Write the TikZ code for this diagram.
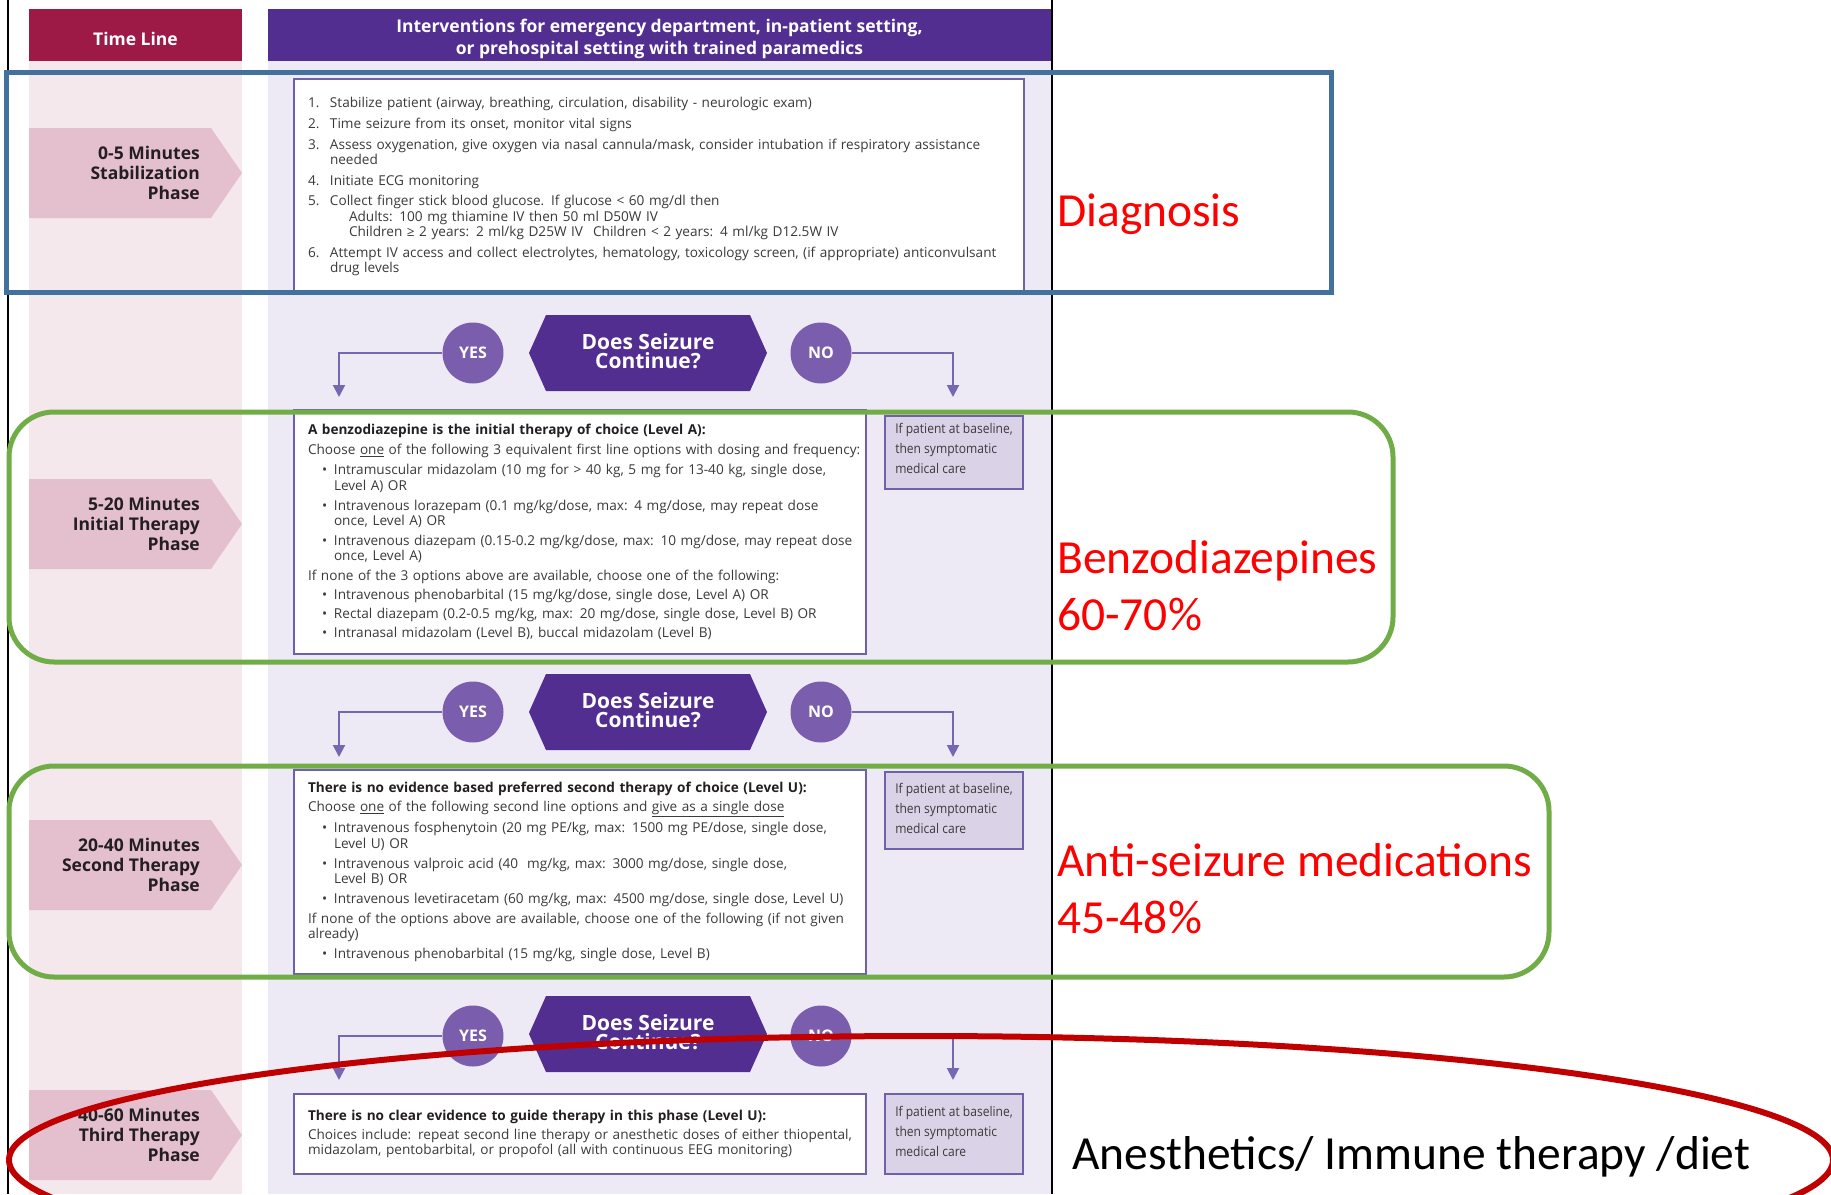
\documentclass[tikz,border=0pt]{standalone}
\usepackage{fontspec}
\setmainfont{Open Sans}
\newfontfamily\sidefont{Open Sans}[FakeStretch=0.9]
\newfontfamily\calibfont{Carlito}
\usetikzlibrary{arrows.meta}

\definecolor{crimson}{HTML}{9C1A45}
\definecolor{deeppurple}{HTML}{512E90}
\definecolor{midpurple}{HTML}{7B5DAE}
\definecolor{linepurple}{HTML}{7667B3}
\definecolor{edgepurple}{HTML}{7060AA}
\definecolor{pinkbg}{HTML}{F5E8ED}
\definecolor{pinkarrow}{HTML}{E4BFCD}
\definecolor{lavbg}{HTML}{EDEAF5}
\definecolor{sidefill}{HTML}{DAD3E8}
\definecolor{bodytext}{HTML}{3A3A3A}
\definecolor{stagetext}{HTML}{231F20}
\definecolor{annblue}{HTML}{41719C}
\definecolor{anngreen}{HTML}{70AD47}
\definecolor{annred}{HTML}{C00000}

\newcommand{\itm}[2]{\makebox[22pt][l]{#1}#2}
\newcommand{\bul}{\hspace*{14pt}\makebox[12pt][l]{•}}
\newcommand{\hang}{\hspace*{26pt}}
\newcommand{\sidetext}[1]{\raisebox{#1}[\height][\depth]{\begin{tabular}{@{}l@{}}If patient at baseline,\\then symptomatic\\medical care\end{tabular}}}

\begin{document}
\begin{tikzpicture}[x=1pt,y=-1pt,
    textbox/.style={draw=edgepurple, line width=1.3pt, fill=white, inner xsep=14pt, inner ysep=0pt, align=left, text=bodytext, font=\fontsize{13.6}{15.3}\selectfont},
    sidebox/.style={draw=edgepurple, line width=1.3pt, fill=sidefill, inner xsep=0pt, inner ysep=0pt, minimum width=138pt, text=bodytext, font=\sidefont\fontsize{13.4}{20}\selectfont},
    stage/.style={anchor=east, align=right, inner sep=0pt, text=stagetext, font=\bfseries\fontsize{17.5}{20}\selectfont},
    decision/.style={text=white, align=center, inner sep=0pt, font=\bfseries\fontsize{21}{19}\selectfont},
    answer/.style={circle, fill=midpurple, minimum size=61pt, inner sep=0pt, text=white, font=\bfseries\fontsize{16}{18}\selectfont},
    flow/.style={draw=linepurple, line width=2pt, -{Triangle[length=12pt,width=12pt]}},
    note/.style={anchor=west, align=left, text=red, inner sep=0pt, font=\calibfont\fontsize{47.5}{57}\selectfont}]

    \useasboundingbox (0,0) rectangle (1831,1194);
    \fill[white] (0,0) rectangle (1831,1194);
    \fill[pinkbg] (29,61) rectangle (242,1194);
    \fill[lavbg] (268,61) rectangle (1051,1194);

    \node (TL) [fill=crimson, minimum width=213pt, minimum height=52pt, text=white, font=\bfseries\fontsize{17.5}{20}\selectfont] at (135.5,35) {\raisebox{-3.5pt}[\height][\depth]{Time Line}};
    \node (IH) [fill=deeppurple, minimum width=783pt, minimum height=52pt, inner xsep=0pt, text=white, font=\bfseries\fontsize{17.5}{22}\selectfont] at (659.5,35) {\raisebox{-3.5pt}[\height][\depth]{\parbox{783pt}{\centering Interventions for emergency department, in-patient setting,\\or prehospital setting with trained paramedics}}};

    \draw[line width=1.2pt] (8,0) -- (8,1194);
    \draw[line width=1.2pt] (1052,0) -- (1052,1194);

    \fill[pinkarrow] (29,128) -- (211,128) -- (242,173) -- (211,218) -- (29,218) -- cycle;
    \fill[pinkarrow] (29,479) -- (211,479) -- (242,524) -- (211,569) -- (29,569) -- cycle;
    \fill[pinkarrow] (29,820) -- (211,820) -- (242,865) -- (211,910) -- (29,910) -- cycle;
    \fill[pinkarrow] (29,1090) -- (211,1090) -- (242,1135) -- (211,1180) -- (29,1180) -- cycle;

    \node (P1) [stage] at (200,173) {0-5 Minutes\\Stabilization\\Phase};
    \node (P2) [stage] at (200,524) {5-20 Minutes\\Initial Therapy\\Phase};
    \node (P3) [stage] at (200,865) {20-40 Minutes\\Second Therapy\\Phase};
    \node (P4) [stage] at (200,1135) {40-60 Minutes\\Third Therapy\\Phase};

    \node (B1) [textbox, text width=702pt, minimum height=215pt] at (659,186.5) {%
        \itm{1.}{Stabilize patient (airway, breathing, circulation, disability - neurologic exam)}\\[5.5pt]
        \itm{2.}{Time seizure from its onset, monitor vital signs}\\[5.5pt]
        \mbox{\itm{3.}{Assess oxygenation, give oxygen via nasal cannula/mask, consider intubation if respiratory assistance}}\\
        \hspace*{22pt}needed\\[5.5pt]
        \itm{4.}{Initiate ECG monitoring}\\[5.5pt]
        \itm{5.}{Collect finger stick blood glucose. If glucose < 60 mg/dl then}\\
        \hspace*{41pt}Adults: 100 mg thiamine IV then 50 ml D50W IV\\
        \hspace*{41pt}Children ≥ 2 years: 2 ml/kg D25W IV\hspace{10pt}Children < 2 years: 4 ml/kg D12.5W IV\\[5.5pt]
        \mbox{\itm{6.}{Attempt IV access and collect electrolytes, hematology, toxicology screen, (if appropriate) anticonvulsant}}\\
        \hspace*{22pt}drug levels};

    \fill[deeppurple] (529,353) -- (546,315) -- (750,315) -- (767,353) -- (750,391) -- (546,391) -- cycle;
    \node (D1) [decision] at (648,351) {Does Seizure\\Continue?};
    \node (Y1) [answer] at (473,353) {YES};
    \node (N1) [answer] at (821,353) {NO};
    \coordinate (YA1) at (339,397);
    \coordinate (NA1) at (953,397);
    \draw[flow] (Y1) -| (YA1);
    \draw[flow] (N1) -| (NA1);

    \node (B2) [textbox, text width=544pt, minimum height=244pt] at (580,532) {%
        \mbox{\textbf{\color{stagetext}A benzodiazepine is the initial therapy of choice (Level A):}}\\[4.7pt]
        \mbox{Choose \underline{one} of the following 3 equivalent first line options with dosing and frequency:}\\[4.7pt]
        \mbox{\bul Intramuscular midazolam (10 mg for > 40 kg, 5 mg for 13-40 kg, single dose,}\\
        \hang Level A) OR\\[4.7pt]
        \mbox{\bul Intravenous lorazepam (0.1 mg/kg/dose, max: 4 mg/dose, may repeat dose}\\
        \hang once, Level A) OR\\[4.7pt]
        \mbox{\bul Intravenous diazepam (0.15-0.2 mg/kg/dose, max: 10 mg/dose, may repeat dose}\\
        \hang once, Level A)\\[4.7pt]
        \mbox{If none of the 3 options above are available, choose one of the following:}\\[3.5pt]
        \mbox{\bul Intravenous phenobarbital (15 mg/kg/dose, single dose, Level A) OR}\\[3.5pt]
        \mbox{\bul Rectal diazepam (0.2-0.5 mg/kg, max: 20 mg/dose, single dose, Level B) OR}\\[3.5pt]
        \mbox{\bul Intranasal midazolam (Level B), buccal midazolam (Level B)}};
    \node (S1) [sidebox, minimum height=73pt] at (954,452.5) {\sidetext{3.5pt}};

    \fill[deeppurple] (529,712) -- (546,674) -- (750,674) -- (767,712) -- (750,750) -- (546,750) -- cycle;
    \node (D2) [decision] at (648,710) {Does Seizure\\Continue?};
    \node (Y2) [answer] at (473,712) {YES};
    \node (N2) [answer] at (821,712) {NO};
    \coordinate (YA2) at (339,757);
    \coordinate (NA2) at (953,757);
    \draw[flow] (Y2) -| (YA2);
    \draw[flow] (N2) -| (NA2);

    \node (B3) [textbox, text width=544pt, minimum height=204pt] at (580,872) {%
        \mbox{\textbf{\color{stagetext}There is no evidence based preferred second therapy of choice (Level U):}}\\[4pt]
        \mbox{Choose \underline{one} of the following second line options and \underline{give as a single dose}}\\[4.7pt]
        \mbox{\bul Intravenous fosphenytoin (20 mg PE/kg, max: 1500 mg PE/dose, single dose,}\\
        \hang Level U) OR\\[4.7pt]
        \mbox{\bul Intravenous valproic acid (40~ mg/kg, max: 3000 mg/dose, single dose,}\\
        \hang Level B) OR\\[4.7pt]
        \mbox{\bul Intravenous levetiracetam (60 mg/kg, max: 4500 mg/dose, single dose, Level U)}\\[4.7pt]
        \mbox{If none of the options above are available, choose one of the following (if not given}\\
        already)\\[4.7pt]
        \mbox{\bul Intravenous phenobarbital (15 mg/kg, single dose, Level B)}};
    \node (S2) [sidebox, minimum height=77pt] at (954,810.5) {\sidetext{1.5pt}};

    \fill[deeppurple] (529,1034) -- (546,996) -- (750,996) -- (767,1034) -- (750,1072) -- (546,1072) -- cycle;
    \node (D3) [decision] at (648,1032) {Does Seizure\\Continue?};
    \node (Y3) [answer] at (473,1036) {YES};
    \node (N3) [answer] at (821,1036) {NO};
    \coordinate (YA3) at (339,1080);
    \coordinate (NA3) at (953,1080);
    \draw[flow] (Y3) -| (YA3);
    \draw[flow] (N3) -| (NA3);

    \node (B4) [textbox, text width=544pt, minimum height=80pt] at (580,1134) {%
        \mbox{\textbf{\color{stagetext}There is no clear evidence to guide therapy in this phase (Level U):}}\\[3pt]
        \mbox{Choices include: repeat second line therapy or anesthetic doses of either thiopental,}\\
        \mbox{midazolam, pentobarbital, or propofol (all with continuous EEG monitoring)}};
    \node (S3) [sidebox, minimum height=80pt] at (954,1134) {\sidetext{1.5pt}};

    \draw[annblue, line width=5pt] (6,72) rectangle (1331,292);
    \draw[anngreen, line width=5pt, rounded corners=45pt] (9,412) rectangle (1393,662);
    \draw[anngreen, line width=5pt, rounded corners=45pt] (9,766) rectangle (1549,977);
    \draw[annred, line width=6pt] (921,1160) ellipse [x radius=912, y radius=124];

    \node (DG) [note] at (1057,214) {Diagnosis};
    \node (BZ) [note] at (1057,586) {Benzodiazepines\\60-70\%};
    \node (AS) [note] at (1057,889) {Anti-seizure medications\\45-48\%};
    \node (AN) [note, text=black] at (1072,1157) {Anesthetics/ Immune therapy /diet};
\end{tikzpicture}
\end{document}
